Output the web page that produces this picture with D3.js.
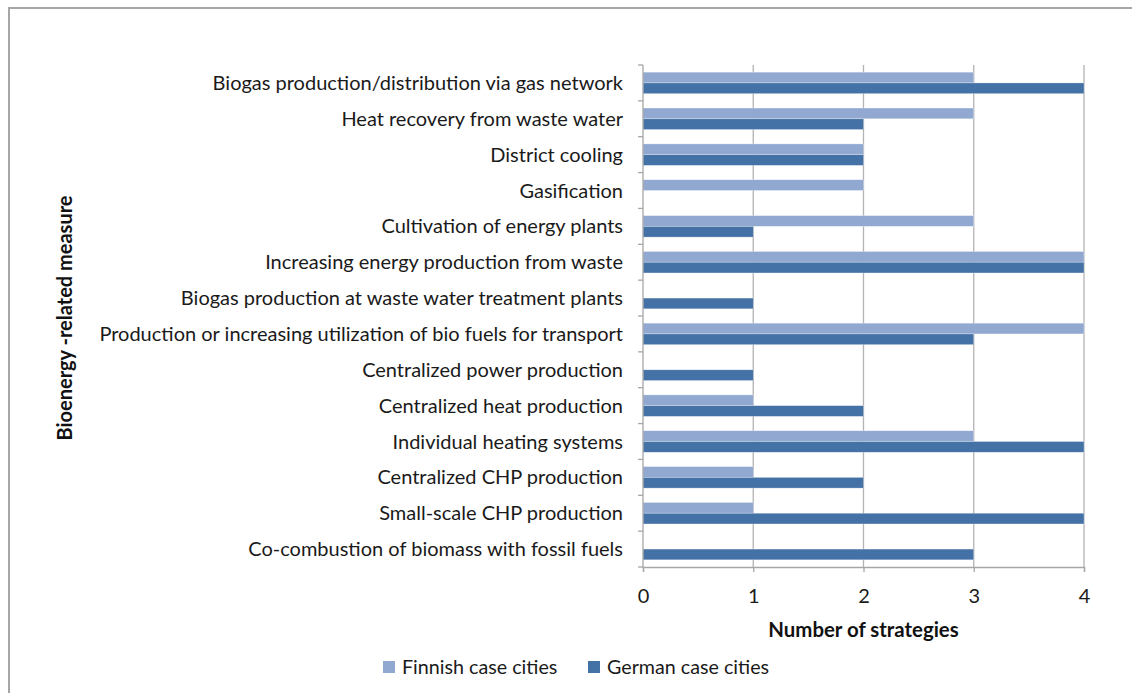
<!DOCTYPE html>
<html>
<head>
<meta charset="utf-8">
<script src="https://cdn.jsdelivr.net/npm/d3@7"></script>
<style>
  html, body { margin: 0; padding: 0; background: #fff; }
  svg { display: block; font-family: Lato, "Open Sans", sans-serif; }
</style>
</head>
<body>
<svg id="chart" width="1132" height="693"></svg>
<script>
// Bioenergy-related measures, listed top to bottom
const measures = [
  "Biogas production/distribution via gas network",
  "Heat recovery from waste water",
  "District cooling",
  "Gasification",
  "Cultivation of energy plants",
  "Increasing energy production from waste",
  "Biogas production at waste water treatment plants",
  "Production or increasing utilization of bio fuels for transport",
  "Centralized power production",
  "Centralized heat production",
  "Individual heating systems",
  "Centralized CHP production",
  "Small-scale CHP production",
  "Co-combustion of biomass with fossil fuels"
];
const finnish = [3, 3, 2, 2, 3, 4, 0, 4, 0, 1, 3, 1, 1, 0];
const german  = [4, 2, 2, 0, 1, 4, 1, 3, 1, 2, 4, 2, 4, 3];
const seriesNames = ["Finnish case cities", "German case cities"];
const seriesColors = ["#91a8d1", "#4471a6"];
const xTicks = [0, 1, 2, 3, 4];

const svg = d3.select("#chart");
const margin = { left: 643, right: 48, top: 65, bottom: 126 };
const W = 1132, H = 693;
const innerW = W - margin.left - margin.right;
const innerH = H - margin.top - margin.bottom;
const fs = 20;

// outer frame
svg.append("rect")
  .attr("x", 9).attr("y", 8).attr("width", 1140).attr("height", 700)
  .attr("fill", "none").attr("stroke", "#a6a6a6").attr("stroke-width", 2);

const g = svg.append("g").attr("transform", `translate(${margin.left},${margin.top})`);

const x = d3.scaleLinear().domain([0, 4]).range([0, innerW]);
const y = d3.scaleBand().domain(measures).range([0, innerH]).paddingInner(0.4).paddingOuter(0.2);
const ySeries = d3.scaleBand().domain(seriesNames).range([0, y.bandwidth()]);

// vertical gridlines
g.append("g").selectAll("line")
  .data(xTicks.filter(d => d > 0))
  .join("line")
  .attr("x1", d => x(d)).attr("x2", d => x(d))
  .attr("y1", 0).attr("y2", innerH)
  .attr("stroke", "#b3b3b3").attr("stroke-width", 1.3);

// bars
const rows = measures.map((m, i) => ({ m, vals: [finnish[i], german[i]] }));
const grp = g.append("g").selectAll("g")
  .data(rows)
  .join("g")
  .attr("transform", d => `translate(0,${y(d.m)})`);
grp.selectAll("rect")
  .data(d => d.vals.map((v, k) => ({ v, k })))
  .join("rect")
  .filter(d => d.v > 0)
  .attr("x", x(0))
  .attr("y", d => ySeries(seriesNames[d.k]))
  .attr("width", d => x(d.v) - x(0))
  .attr("height", ySeries.bandwidth())
  .attr("fill", d => seriesColors[d.k])
  .attr("stroke", "#ffffff").attr("stroke-opacity", 0.5).attr("stroke-width", 0.6);

// y axis (category labels, ticks between categories)
const yAxis = g.append("g");
yAxis.append("line")
  .attr("x1", 0).attr("x2", 0).attr("y1", 0).attr("y2", innerH)
  .attr("stroke", "#a6a6a6").attr("stroke-width", 1.3);
const step = innerH / measures.length;
yAxis.selectAll("line.tk")
  .data(d3.range(measures.length + 1))
  .join("line").attr("class", "tk")
  .attr("x1", -5).attr("x2", 0)
  .attr("y1", d => d * step).attr("y2", d => d * step)
  .attr("stroke", "#a6a6a6").attr("stroke-width", 1.3);
yAxis.selectAll("text")
  .data(measures)
  .join("text")
  .attr("x", -20)
  .attr("y", d => y(d) + y.bandwidth() / 2)
  .attr("dy", "0.35em")
  .attr("text-anchor", "end")
  .attr("font-size", fs)
  .attr("fill", "#1a1a1a")
  .text(d => d);

// x axis
const xAxis = g.append("g").attr("transform", `translate(0,${innerH})`)
  .call(d3.axisBottom(x).tickValues(xTicks).tickFormat(d3.format("d")).tickSize(5).tickPadding(17));
xAxis.select(".domain").attr("stroke", "#a6a6a6").attr("stroke-width", 1.3);
xAxis.selectAll(".tick line").attr("stroke", "#a6a6a6").attr("stroke-width", 1.3);
xAxis.selectAll(".tick text")
  .attr("font-size", fs).attr("font-family", "Lato, sans-serif").attr("fill", "#1a1a1a");

// axis titles
svg.append("text")
  .attr("x", margin.left + innerW / 2).attr("y", 637)
  .attr("text-anchor", "middle").attr("font-weight", "bold").attr("font-size", 20.4)
  .attr("fill", "#111").text("Number of strategies");
svg.append("text")
  .attr("transform", `translate(72,${318}) rotate(-90)`)
  .attr("text-anchor", "middle").attr("font-weight", "bold").attr("font-size", 20)
  .attr("fill", "#111").text("Bioenergy -related measure");

// legend
const legend = svg.append("g").attr("transform", "translate(383,667)");
const legX = [0, 205];
seriesNames.forEach((s, i) => {
  const lg = legend.append("g").attr("transform", `translate(${legX[i]},0)`);
  lg.append("rect").attr("x", 0).attr("y", -6).attr("width", 12).attr("height", 12)
    .attr("fill", seriesColors[i]);
  lg.append("text").attr("x", 19).attr("y", 0).attr("dy", "0.35em")
    .attr("font-size", 19.7).attr("fill", "#1a1a1a").text(s);
});
</script>
</body>
</html>
